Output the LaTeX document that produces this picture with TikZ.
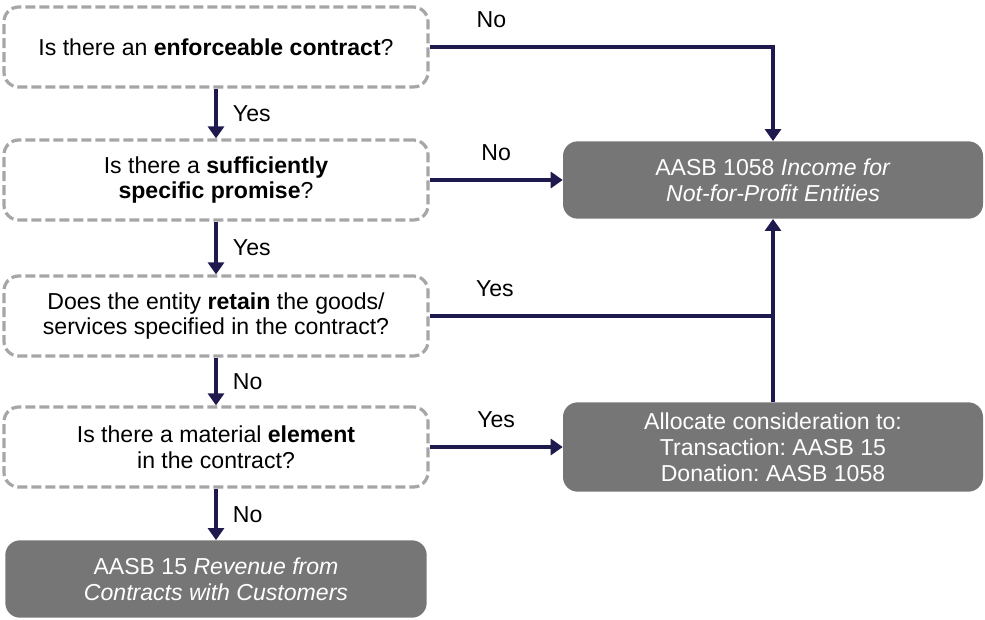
\documentclass[tikz,border=0pt]{standalone}
\usepackage{fontspec}
\setmainfont{Liberation Sans}
\usetikzlibrary{arrows.meta}
\definecolor{flowline}{HTML}{1F1A4D}
\definecolor{dashgray}{HTML}{A6A6A6}
\definecolor{boxgray}{HTML}{767676}
\frenchspacing
\begin{document}
\begin{tikzpicture}[x=0.75pt,y=-0.75pt,
  every node/.style={font=\fontsize{17.3}{19.4}\selectfont},
  question/.style={draw=dashgray,line width=2.4pt,dash pattern=on 7.5pt off 3pt,
    rounded corners=11pt,minimum width=318pt,minimum height=60pt,align=center},
  outcome/.style={fill=boxgray,text=white,rounded corners=11pt,
    minimum width=315pt,align=center},
  flow/.style={draw=flowline,line width=2.8pt,-{Triangle[length=9pt,width=12pt]}},
  plain/.style={draw=flowline,line width=2.8pt}]
  \useasboundingbox (0,0) rectangle (985,619);
  \node[question] (enforce) at (216,47) {Is there an \textbf{enforceable contract}?};
  \node[question] (promise) at (216,180) {Is there a \textbf{sufficiently}\\\textbf{specific promise}?};
  \node[question] (retain) at (216,316) {Does the entity \textbf{retain} the goods/\\services specified in the contract?};
  \node[question] (element) at (216,447) {Is there a material \textbf{element}\\in the contract?};
  \node[outcome,minimum width=316pt,minimum height=58pt] (aasb15) at (216,579) {AASB 15 \textit{Revenue from}\\\textit{Contracts with Customers}};
  \node[outcome,minimum height=58pt] (aasb1058) at (773,180) {AASB 1058 \textit{Income for}\\\textit{Not-for-Profit Entities}};
  \node[outcome,minimum height=67pt] (allocate) at (773,447) {Allocate consideration to:\\Transaction: AASB 15\\Donation: AASB 1058};
  \coordinate (corner) at (773,47);
  \coordinate (join) at (773,316);
  % vertical path
  \draw[flow] (enforce) -- node[right=8pt] {Yes} (promise);
  \draw[flow] (promise) -- node[right=8pt] {Yes} (retain);
  \draw[flow] (retain) -- node[right=8pt] {No} (element);
  \draw[flow] (element) -- node[right=8pt] {No} (aasb15);
  % to the right
  \draw[flow] (enforce.east) -- node[pos=0.18,above=10pt] {No} (corner) -- (aasb1058.north);
  \draw[flow] (promise.east) -- node[pos=0.5,above=10pt] {No} (aasb1058.west);
  \draw[plain] (retain.east) -- node[pos=0.19,above=10pt] {Yes} (join);
  \draw[flow] (element.east) -- node[pos=0.5,above=10pt] {Yes} (allocate.west);
  \draw[flow] (allocate.north) -- (aasb1058.south);
\end{tikzpicture}
\end{document}
